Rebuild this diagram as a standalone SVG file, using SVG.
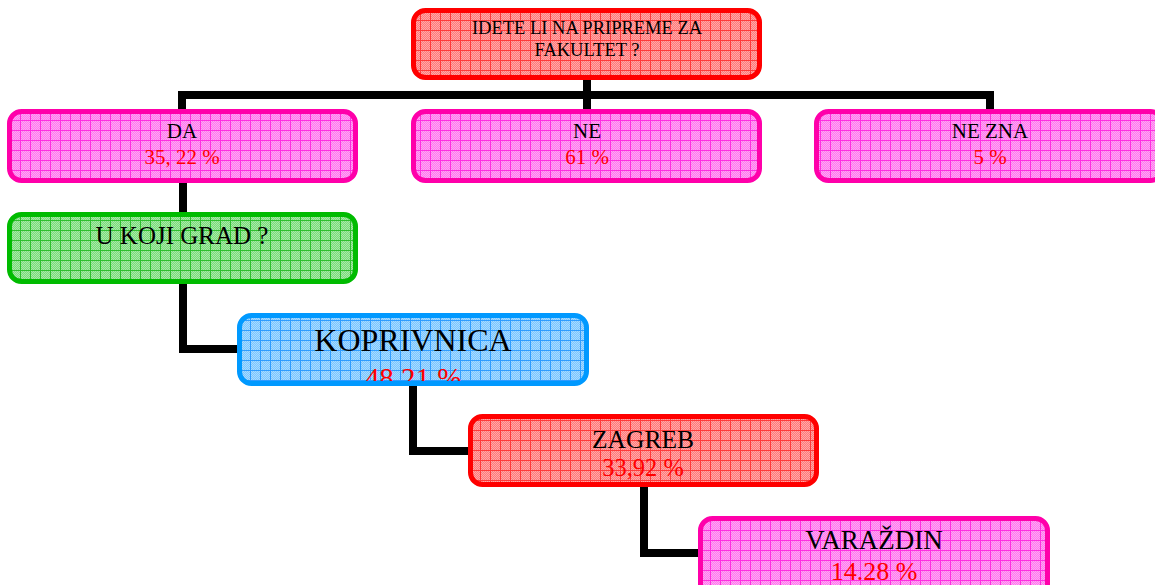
<svg xmlns="http://www.w3.org/2000/svg" width="1155" height="585" viewBox="0 0 1155 585">
<style>
.box{stroke-width:5}
.lbl{font-family:"Liberation Serif","Times New Roman",serif;fill:#000;text-anchor:middle}
.pct{font-family:"Liberation Serif","Times New Roman",serif;fill:#ff0000;text-anchor:middle}
.conn{fill:none;stroke:#000;stroke-width:8;stroke-linecap:butt;stroke-linejoin:miter}
</style>
<defs>
<pattern id="chk" width="2" height="2" patternUnits="userSpaceOnUse">
<rect x="0" y="0" width="1" height="1" fill="#fff" fill-opacity="0.35"/>
<rect x="1" y="1" width="1" height="1" fill="#fff" fill-opacity="0.35"/>
</pattern>
<pattern id="gRed" width="10" height="10" patternUnits="userSpaceOnUse">
<rect width="10" height="10" fill="#ff7a7a"/><rect width="10" height="10" fill="url(#chk)"/>
<path d="M0,0.5H10M0.5,0V10" stroke="#ff3a3a" stroke-width="1"/>
</pattern>
<pattern id="gPink" width="10" height="10" patternUnits="userSpaceOnUse">
<rect width="10" height="10" fill="#ff78ee"/><rect width="10" height="10" fill="url(#chk)"/>
<path d="M0,0.5H10M0.5,0V10" stroke="#ff2ee0" stroke-width="1"/>
</pattern>
<pattern id="gGreen" width="10" height="10" patternUnits="userSpaceOnUse">
<rect width="10" height="10" fill="#7adc7a"/><rect width="10" height="10" fill="url(#chk)"/>
<path d="M0,0.5H10M0.5,0V10" stroke="#2ebf2e" stroke-width="1"/>
</pattern>
<pattern id="gBlue" width="10" height="10" patternUnits="userSpaceOnUse">
<rect width="10" height="10" fill="#7ac6ff"/><rect width="10" height="10" fill="url(#chk)"/>
<path d="M0,0.5H10M0.5,0V10" stroke="#2e9cff" stroke-width="1"/>
</pattern>
<clipPath id="clipKop"><rect x="242" y="318" width="342" height="63" rx="10"/></clipPath>
</defs>
<rect width="1155" height="585" fill="#fff"/>
<g id="connectors">
<path class="conn" d="M587,80V111"/>
<path class="conn" d="M182,111V95H990V111"/>
<path class="conn" d="M183,183V214"/>
<path class="conn" d="M183,284V349H240"/>
<path class="conn" d="M413,386V451H471"/>
<path class="conn" d="M644,487V553H701"/>
</g>
<g id="n-top">
<rect class="box" x="413.5" y="10.5" width="346" height="67" rx="12" fill="url(#gRed)" stroke="#ff0000"/>
<text class="lbl" x="587" y="34" font-size="18.5">IDETE LI NA PRIPREME ZA</text>
<text class="lbl" x="587" y="56" font-size="18.5">FAKULTET ?</text>
</g>
<g id="n-da">
<rect class="box" x="9.5" y="111.5" width="346" height="69" rx="12" fill="url(#gPink)" stroke="#ff00aa"/>
<text class="lbl" x="182" y="138" font-size="21">DA</text>
<text class="pct" x="182" y="164" font-size="21">35, 22 %</text>
</g>
<g id="n-ne">
<rect class="box" x="413.5" y="111.5" width="346" height="69" rx="12" fill="url(#gPink)" stroke="#ff00aa"/>
<text class="lbl" x="587" y="138" font-size="21">NE</text>
<text class="pct" x="587" y="164" font-size="21">61 %</text>
</g>
<g id="n-nezna">
<rect class="box" x="816.5" y="111.5" width="346" height="69" rx="12" fill="url(#gPink)" stroke="#ff00aa"/>
<text class="lbl" x="990" y="138" font-size="21">NE ZNA</text>
<text class="pct" x="990" y="164" font-size="21">5 %</text>
</g>
<g id="n-grad">
<rect class="box" x="9.5" y="214.5" width="346" height="67" rx="12" fill="url(#gGreen)" stroke="#00bb00"/>
<text class="lbl" x="182" y="244" font-size="25">U KOJI GRAD ?</text>
</g>
<g id="n-koprivnica">
<rect class="box" x="239.5" y="315.5" width="347" height="68" rx="12" fill="url(#gBlue)" stroke="#0099ff"/>
<text class="lbl" x="413" y="351" font-size="32">KOPRIVNICA</text>
<g clip-path="url(#clipKop)"><text class="pct" x="413" y="388" font-size="29">48,21 %</text></g>
</g>
<g id="n-zagreb">
<rect class="box" x="470.5" y="416.5" width="346" height="68" rx="12" fill="url(#gRed)" stroke="#ff0000"/>
<text class="lbl" x="643" y="448" font-size="25.5">ZAGREB</text>
<text class="pct" x="643" y="476" font-size="24.5">33,92 %</text>
</g>
<g id="n-varazdin">
<rect class="box" x="700.5" y="518.5" width="347" height="85" rx="12" fill="url(#gPink)" stroke="#ff00aa"/>
<text class="lbl" x="874" y="549" font-size="27">VARAŽDIN</text>
<text class="pct" x="874" y="580" font-size="26">14.28 %</text>
</g>
</svg>
